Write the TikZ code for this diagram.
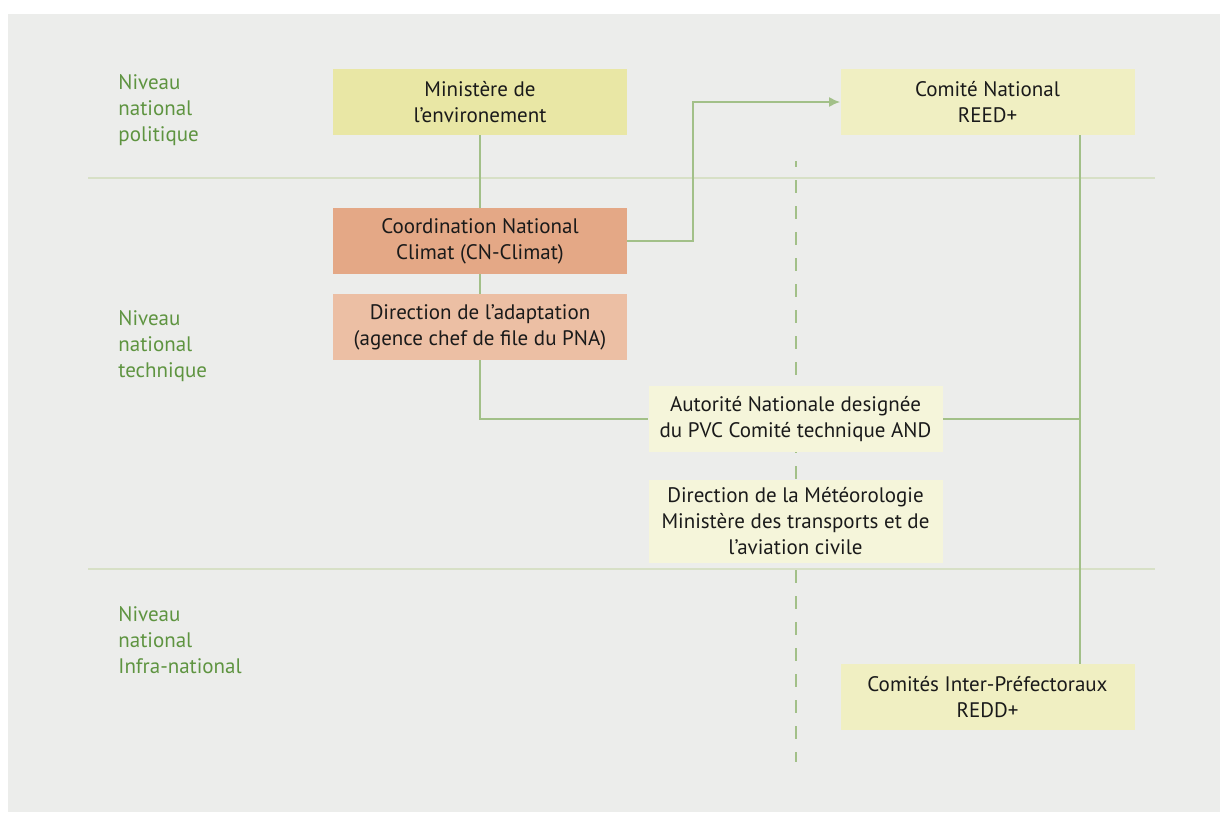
\documentclass[tikz,border=0pt]{standalone}
\usepackage{fontspec}
\setmainfont{PT Sans}
\usetikzlibrary{backgrounds,arrows.meta}
\definecolor{panelgray}{HTML}{ECEDEB}
\definecolor{sepgreen}{HTML}{D7E0C6}
\definecolor{linkgreen}{HTML}{A2C088}
\definecolor{levelgreen}{HTML}{5E9440}
\definecolor{inkdark}{HTML}{1A1A1A}
\definecolor{ministere}{HTML}{E9E7A5}
\definecolor{comite}{HTML}{F0EFC2}
\definecolor{climat}{HTML}{E4A886}
\definecolor{adapt}{HTML}{ECBFA4}
\definecolor{pale}{HTML}{F5F5DA}

\begin{document}
\begin{tikzpicture}[x=0.5pt, y=-0.5pt,
    font=\fontsize{10.5}{13}\selectfont,
    box/.style={minimum width=147pt, minimum height=33pt, inner sep=0pt,
      align=center, text=inkdark},
    levellabel/.style={anchor=west, align=left, inner sep=0pt, text=levelgreen},
    link/.style={draw=linkgreen, line width=0.8pt},
    sepline/.style={draw=sepgreen, line width=0.8pt},
    dashline/.style={draw=linkgreen, line width=0.8pt,
      dash pattern=on 6.5pt off 6.5pt, dash phase=3.5pt}]
  \useasboundingbox (0,0) rectangle (1223,815);
  \begin{scope}[on background layer]
    \fill[panelgray] (8,14) rectangle (1220,812);
    \draw[sepline] (88,178) -- (1155,178);
    \draw[sepline] (88,569) -- (1155,569);
  \end{scope}

  % levels
  \node[levellabel] (lvlpol) at (118,110) {Niveau\\national\\politique};
  \node[levellabel] (lvltech) at (118,346) {Niveau\\national\\technique};
  \node[levellabel] (lvlinfra) at (118,640) {Niveau\\national\\Infra-national};

  % boxes
  \node[box, fill=ministere] (min) at (480,102) {Ministère de\\l’environement};
  \node[box, fill=comite] (cnr) at (987.5,102) {Comité National\\REED+};
  \node[box, fill=climat] (cnc) at (480,241) {Coordination National\\Climat (CN-Climat)};
  \node[box, fill=adapt] (dad) at (480,327) {Direction de l’adaptation\\(agence chef de file du PNA)};
  \node[box, fill=pale] (and) at (795.5,419) {Autorité Nationale designée\\du PVC Comité technique AND};
  \node[box, fill=pale, minimum height=41.5pt] (met) at (795.5,521)
    {Direction de la Météorologie\\Ministère des transports et de\\l’aviation civile};
  \node[box, fill=comite] (cip) at (987.5,697) {Comités Inter-Préfectoraux\\REDD+};

  \coordinate (bend) at (693,241);
  \coordinate (jn) at (1080,419);
  \coordinate (dtop) at (796,161);
  \coordinate (dbot) at (796,762);

  \begin{scope}[on background layer]
    \draw[link] (min) -- (min |- and) -- (and);
    \draw[link, ->, >={Latex[length=5.5pt,width=5pt]}]
      (cnc.east) -- (bend) |- (cnr.west);
    \draw[link] (cnr.south -| jn) -- (cip.north -| jn);
    \draw[link] (and) -- (jn);
    \draw[dashline] (dtop) -- (dbot);
  \end{scope}
\end{tikzpicture}
\end{document}
